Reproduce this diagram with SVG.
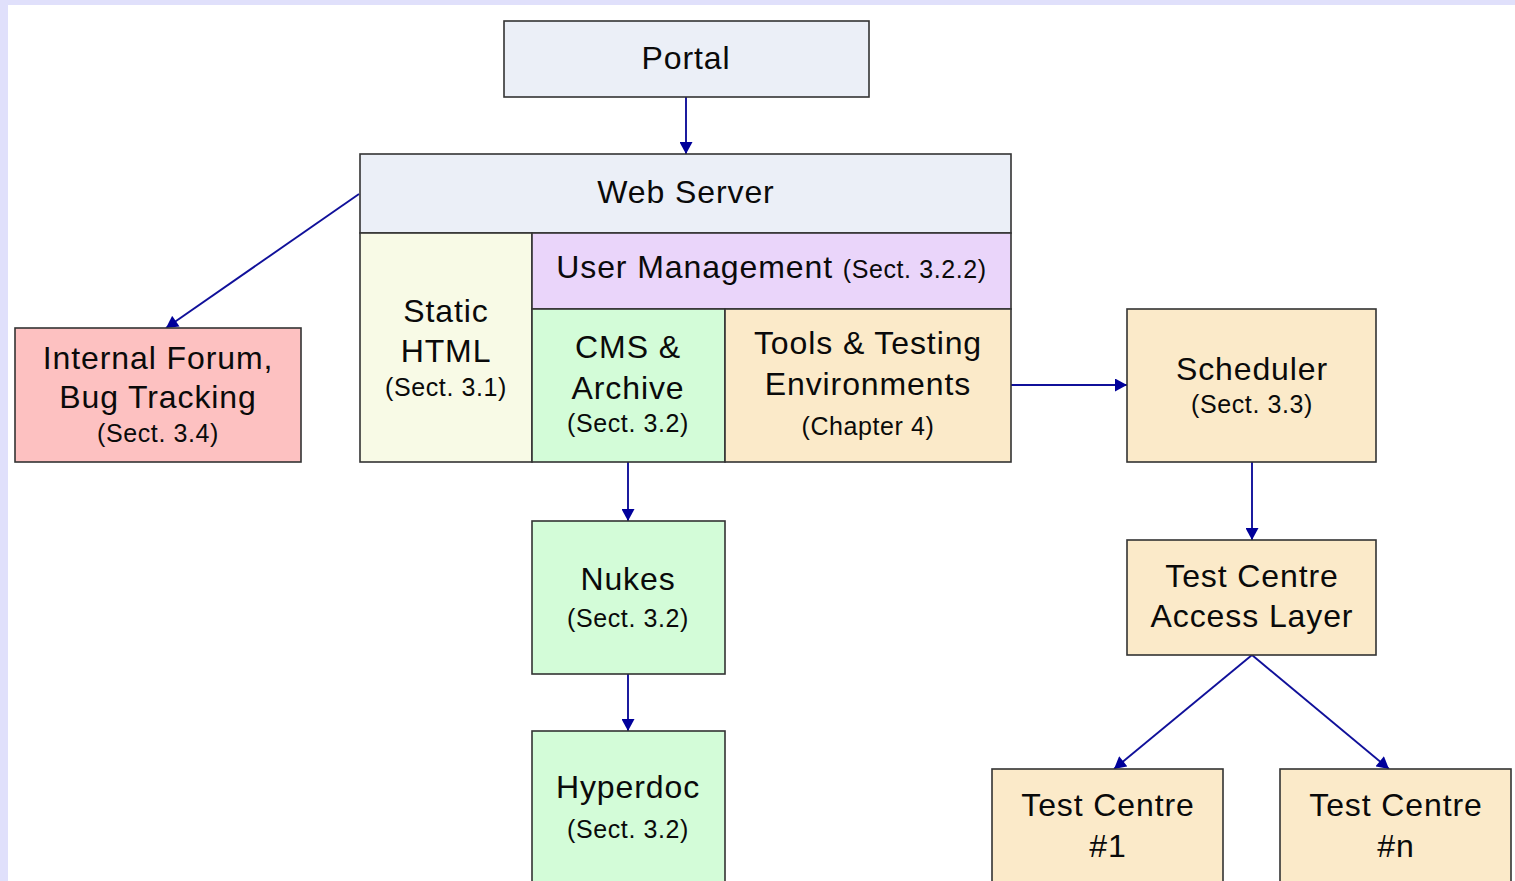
<svg xmlns="http://www.w3.org/2000/svg" width="1515" height="881" viewBox="0 0 1515 881">
<defs>
<style>
.box{stroke:#333;stroke-width:1.6}
.t{font-family:"Liberation Sans",Arial,sans-serif;font-size:32px;fill:#0a0a0a;text-anchor:middle;letter-spacing:0.9px}
.s{font-size:25px;letter-spacing:0.6px}
.c{stroke:#10109a;stroke-width:1.9;fill:none;marker-end:url(#ah)}
</style>
<marker id="ah" markerUnits="userSpaceOnUse" markerWidth="13" markerHeight="13" refX="12" refY="6.5" orient="auto" viewBox="0 0 12 13">
<path d="M0,0 L12,6.5 L0,13 z" fill="#00009a"/>
</marker>
</defs>
<rect x="0" y="0" width="1515" height="881" fill="#e0e0fb"/>
<rect x="8" y="5" width="1507" height="876" fill="#ffffff"/>

<g id="connectors">
<line class="c" x1="686" y1="97" x2="686" y2="154"/>
<line class="c" x1="359" y1="194" x2="166" y2="328"/>
<line class="c" x1="628" y1="462" x2="628" y2="521"/>
<line class="c" x1="628" y1="674" x2="628" y2="731"/>
<line class="c" x1="1011" y1="385" x2="1127" y2="385"/>
<line class="c" x1="1252" y1="462" x2="1252" y2="540"/>
<line class="c" x1="1252" y1="655" x2="1114" y2="769"/>
<line class="c" x1="1252" y1="655" x2="1389" y2="769"/>
</g>

<g id="portal">
<rect class="box" x="504" y="21" width="365" height="76" fill="#ebeff7"/>
<text class="t" x="686" y="69">Portal</text>
</g>

<g id="web-server">
<rect class="box" x="360" y="154" width="651" height="79" fill="#ebeff7"/>
<text class="t" x="686" y="203">Web Server</text>
</g>

<g id="static-html">
<rect class="box" x="360" y="233" width="172" height="229" fill="#f8fae6"/>
<text class="t" x="446" y="322">Static</text>
<text class="t" x="446" y="362">HTML</text>
<text class="t s" x="446" y="396">(Sect. 3.1)</text>
</g>

<g id="user-management">
<rect class="box" x="532" y="233" width="479" height="76" fill="#ead5fa"/>
<text class="t" x="771.5" y="278">User Management <tspan class="s">(Sect. 3.2.2)</tspan></text>
</g>

<g id="cms-archive">
<rect class="box" x="532" y="309" width="193" height="153" fill="#d3fcd8"/>
<text class="t" x="628" y="358">CMS &amp;</text>
<text class="t" x="628" y="399">Archive</text>
<text class="t s" x="628" y="432">(Sect. 3.2)</text>
</g>

<g id="tools-testing">
<rect class="box" x="725" y="309" width="286" height="153" fill="#fbeac9"/>
<text class="t" x="868" y="354">Tools &amp; Testing</text>
<text class="t" x="868" y="395">Environments</text>
<text class="t s" x="868" y="435">(Chapter 4)</text>
</g>

<g id="internal-forum">
<rect class="box" x="15" y="328" width="286" height="134" fill="#fdc1c1"/>
<text class="t" x="158" y="369">Internal Forum,</text>
<text class="t" x="158" y="408">Bug Tracking</text>
<text class="t s" x="158" y="442">(Sect. 3.4)</text>
</g>

<g id="scheduler">
<rect class="box" x="1127" y="309" width="249" height="153" fill="#fbeac9"/>
<text class="t" x="1252" y="380">Scheduler</text>
<text class="t s" x="1252" y="413">(Sect. 3.3)</text>
</g>

<g id="access-layer">
<rect class="box" x="1127" y="540" width="249" height="115" fill="#fbeac9"/>
<text class="t" x="1252" y="587">Test Centre</text>
<text class="t" x="1252" y="627">Access Layer</text>
</g>

<g id="test-centre-1">
<rect class="box" x="992" y="769" width="231" height="125" fill="#fbeac9"/>
<text class="t" x="1108" y="816">Test Centre</text>
<text class="t" x="1108" y="857">#1</text>
</g>

<g id="test-centre-n">
<rect class="box" x="1280" y="769" width="231" height="125" fill="#fbeac9"/>
<text class="t" x="1396" y="816">Test Centre</text>
<text class="t" x="1396" y="857">#n</text>
</g>

<g id="nukes">
<rect class="box" x="532" y="521" width="193" height="153" fill="#d3fcd8"/>
<text class="t" x="628" y="590">Nukes</text>
<text class="t s" x="628" y="627">(Sect. 3.2)</text>
</g>

<g id="hyperdoc">
<rect class="box" x="532" y="731" width="193" height="163" fill="#d3fcd8"/>
<text class="t" x="628" y="798">Hyperdoc</text>
<text class="t s" x="628" y="838">(Sect. 3.2)</text>
</g>
</svg>
